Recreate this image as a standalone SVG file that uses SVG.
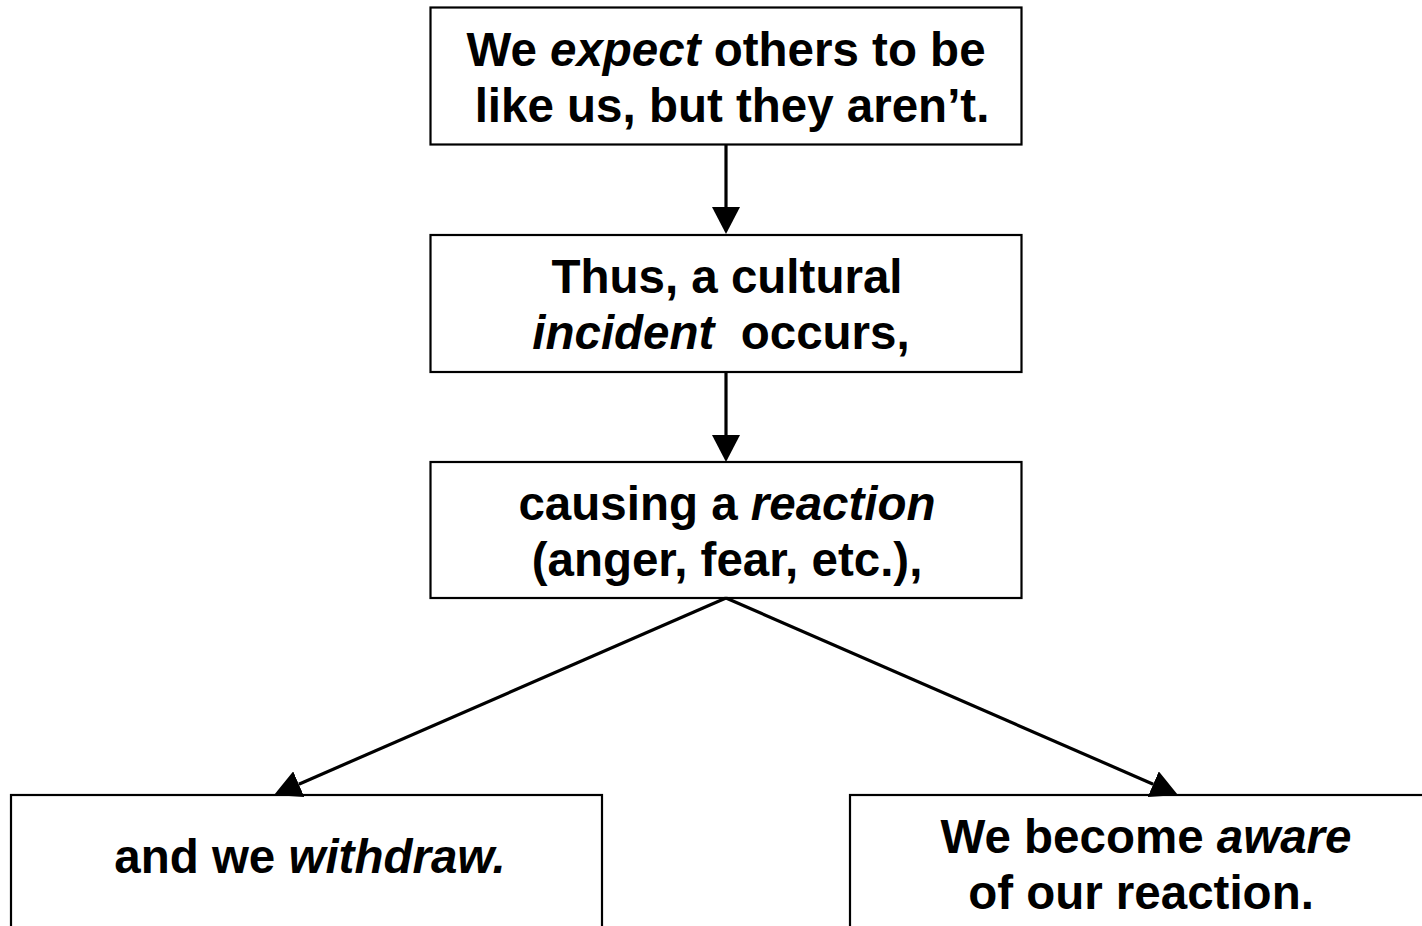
<svg xmlns="http://www.w3.org/2000/svg" width="1422" height="926" viewBox="0 0 1422 926">
<style>
.box{fill:#fff;stroke:#000;stroke-width:2.2}
.t{font-family:"Liberation Sans",Arial,Helvetica,sans-serif;font-weight:bold;font-size:47.5px;fill:#000;text-anchor:middle}
.i{font-style:italic}
.c{stroke:#000;stroke-width:3.2;fill:none}
</style>
<defs>
<marker id="ah" markerUnits="userSpaceOnUse" markerWidth="28" markerHeight="28" viewBox="0 0 28 28" refX="0" refY="14" orient="auto">
<path d="M0,0 L27,14 L0,28 Z" fill="#000"/>
</marker>
</defs>
<rect width="1422" height="926" fill="#fff"/>
<g id="n1">
<rect class="box" x="430.5" y="7.5" width="591" height="137"/>
<text class="t" x="726" y="66">We <tspan class="i">expect</tspan> others to be</text>
<text class="t" x="732" y="122">like us, but they aren’t.</text>
</g>
<g id="n2">
<rect class="box" x="430.5" y="235" width="591" height="137"/>
<text class="t" x="727" y="293">Thus, a cultural</text>
<text class="t" x="721" y="349"><tspan class="i">incident</tspan>&#160; occurs,</text>
</g>
<g id="n3">
<rect class="box" x="430.5" y="462" width="591" height="136"/>
<text class="t" x="727" y="520">causing a <tspan class="i">reaction</tspan></text>
<text class="t" x="727" y="576">(anger, fear, etc.),</text>
</g>
<g id="n4">
<rect class="box" x="11" y="795" width="591" height="150"/>
<text class="t" x="310" y="873">and we <tspan class="i">withdraw.</tspan></text>
</g>
<g id="n5">
<rect class="box" x="850" y="795" width="600" height="150"/>
<text class="t" x="1146" y="853">We become <tspan class="i">aware</tspan></text>
<text class="t" x="1141" y="909">of our reaction.</text>
</g>
<g id="connectors">
<line class="c" x1="726" y1="145" x2="726" y2="207" marker-end="url(#ah)"/>
<line class="c" x1="726" y1="372" x2="726" y2="435" marker-end="url(#ah)"/>
<line class="c" x1="726" y1="598" x2="298.8" y2="784.2" marker-end="url(#ah)"/>
<line class="c" x1="726" y1="598" x2="1153.2" y2="784.2" marker-end="url(#ah)"/>
</g>
</svg>
